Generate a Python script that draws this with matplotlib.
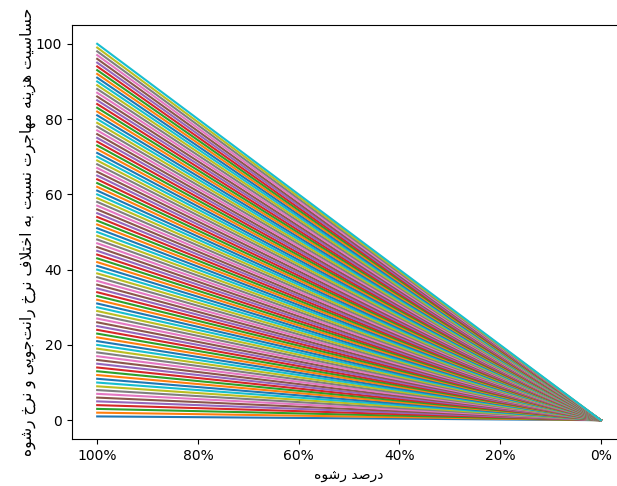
import numpy as np
import matplotlib
matplotlib.use("Agg")
import matplotlib.pyplot as plt
from matplotlib.ticker import PercentFormatter

# rent-seeking gap levels, one line per level
rent_levels = list(range(1, 101))
bribe_pct = [100, 0]
x_ticks = [100, 80, 60, 40, 20, 0]

xlabel_text = "درصد رشوه"
ylabel_text = "حساسیت هزینه مهاجرت نسبت به اختلاف نرخ رانت\u200cجویی و نرخ رشوه"

# presentation forms: (isolated, final, initial, medial); None = joins only to the right
FORMS = {
    "ا": (0xFE8D, 0xFE8E, None, None),
    "ب": (0xFE8F, 0xFE90, 0xFE91, 0xFE92),
    "ت": (0xFE95, 0xFE96, 0xFE97, 0xFE98),
    "ج": (0xFE9D, 0xFE9E, 0xFE9F, 0xFEA0),
    "ح": (0xFEA1, 0xFEA2, 0xFEA3, 0xFEA4),
    "خ": (0xFEA5, 0xFEA6, 0xFEA7, 0xFEA8),
    "د": (0xFEA9, 0xFEAA, None, None),
    "ر": (0xFEAD, 0xFEAE, None, None),
    "ز": (0xFEAF, 0xFEB0, None, None),
    "س": (0xFEB1, 0xFEB2, 0xFEB3, 0xFEB4),
    "ش": (0xFEB5, 0xFEB6, 0xFEB7, 0xFEB8),
    "ص": (0xFEB9, 0xFEBA, 0xFEBB, 0xFEBC),
    "ف": (0xFED1, 0xFED2, 0xFED3, 0xFED4),
    "ل": (0xFEDD, 0xFEDE, 0xFEDF, 0xFEE0),
    "م": (0xFEE1, 0xFEE2, 0xFEE3, 0xFEE4),
    "ن": (0xFEE5, 0xFEE6, 0xFEE7, 0xFEE8),
    "ه": (0xFEE9, 0xFEEA, 0xFEEB, 0xFEEC),
    "و": (0xFEED, 0xFEEE, None, None),
    "ی": (0xFBFC, 0xFBFD, 0xFBFE, 0xFBFF),
}


def joins_left(ch):
    return ch in FORMS and FORMS[ch][2] is not None


def shape(text):
    # lam + alef ligature first
    chars = []
    i = 0
    while i < len(text):
        if text[i] == "ل" and i + 1 < len(text) and text[i + 1] == "ا":
            chars.append("LA")
            i += 2
        else:
            chars.append(text[i])
            i += 1
    out = []
    for i, ch in enumerate(chars):
        prev = chars[i - 1] if i > 0 else None
        nxt = chars[i + 1] if i + 1 < len(chars) else None
        from_prev = prev is not None and joins_left(prev)
        if ch == "LA":
            out.append(chr(0xFEFC if from_prev else 0xFEFB))
            continue
        if ch not in FORMS:
            if ch != "\u200c":
                out.append(ch)
            continue
        iso, fin, ini, med = FORMS[ch]
        to_next = ini is not None and nxt is not None and (nxt in FORMS or nxt == "LA")
        if from_prev and to_next:
            out.append(chr(med))
        elif from_prev:
            out.append(chr(fin))
        elif to_next:
            out.append(chr(ini))
        else:
            out.append(chr(iso))
    return "".join(reversed(out))


fig = plt.figure(figsize=(6.17, 4.86), dpi=100)
ax = fig.add_axes([0.1167, 0.0967, 0.8979, 0.8519])

for level in rent_levels:
    ax.plot(bribe_pct, [level, 0])

ax.set_xticks(x_ticks)
ax.xaxis.set_major_formatter(PercentFormatter(decimals=0))
ax.invert_xaxis()
ax.spines["right"].set_visible(False)
ax.set_xlabel(shape(xlabel_text))
ax.set_ylabel(shape(ylabel_text), fontsize=11.2, labelpad=0)

fig.savefig("out.png", dpi=100)
